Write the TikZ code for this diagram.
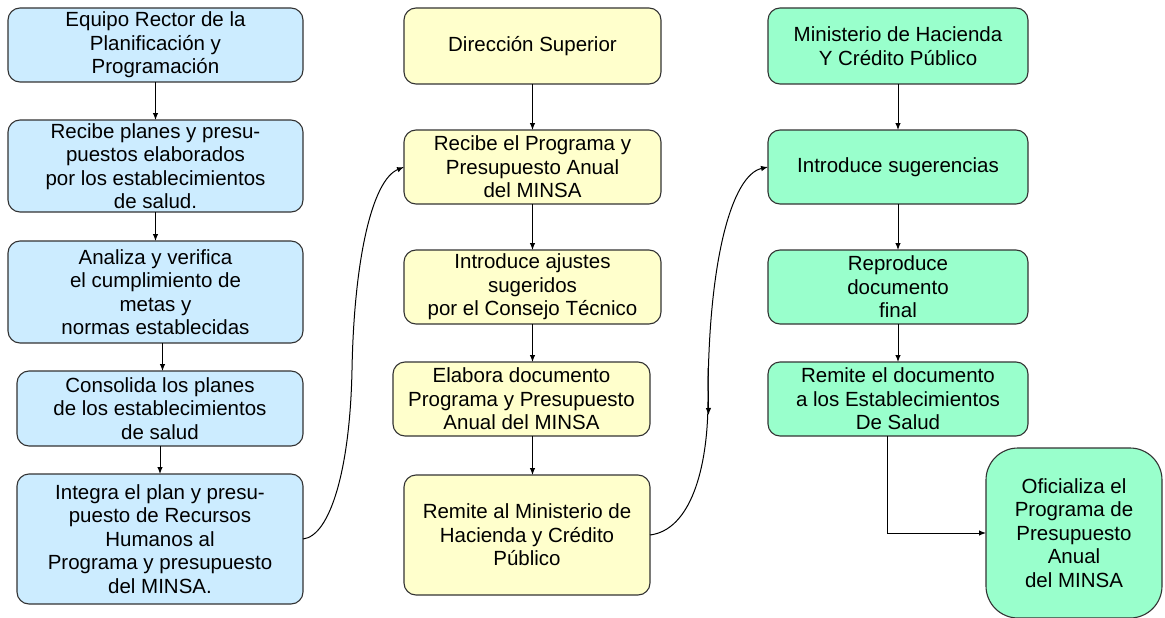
\documentclass[tikz,border=0pt]{standalone}
\usepackage{fontspec}
\setmainfont{Liberation Sans}
\usetikzlibrary{arrows.meta}
\definecolor{cblue}{HTML}{CCECFF}
\definecolor{cyel}{HTML}{FFFFCC}
\definecolor{cgrn}{HTML}{99FFCC}
\definecolor{cline}{HTML}{333333}
\tikzset{
  box/.style={draw=cline, line width=1.1pt, rounded corners=12pt, inner sep=0pt, outer sep=0pt,
    align=center, font=\fontsize{20.5}{23.5}\selectfont, text=black},
  bbox/.style={box, fill=cblue},
  ybox/.style={box, fill=cyel},
  gbox/.style={box, fill=cgrn},
  arr/.style={draw=black, line width=1pt, -{Latex[length=7pt,width=5.5pt]}},
}
\begin{document}
\begin{tikzpicture}[x=1pt,y=-1pt]
\useasboundingbox (0,0) rectangle (1165,618);
% left column
\node[bbox, minimum width=295pt, minimum height=74pt] (l1) at (155.5,45) {Equipo Rector de la\\Planificación y\\Programación};
\node[bbox, minimum width=295pt, minimum height=92pt] (l2) at (155.5,166) {Recibe planes y presu-\\puestos elaborados\\por los establecimientos\\de salud.};
\node[bbox, minimum width=295pt, minimum height=102pt] (l3) at (155.5,292) {Analiza y verifica\\el cumplimiento de\\metas y\\normas establecidas};
\node[bbox, minimum width=286pt, minimum height=75pt] (l4) at (160,408.5) {Consolida los planes\\de los establecimientos\\de salud};
\node[bbox, minimum width=286pt, minimum height=130pt] (l5) at (160,539) {Integra el plan y presu-\\puesto de Recursos\\Humanos al\\Programa y presupuesto\\del MINSA.};
% middle column
\node[ybox, minimum width=257pt, minimum height=76pt] (m1) at (532.5,46) {Dirección Superior};
\node[ybox, minimum width=257pt, minimum height=74pt] (m2) at (532.5,167) {Recibe el Programa y\\Presupuesto Anual\\del MINSA};
\node[ybox, minimum width=257pt, minimum height=74pt] (m3) at (532.5,287) {Introduce ajustes\\sugeridos\\por el Consejo Técnico};
\node[ybox, minimum width=257pt, minimum height=74pt] (m4) at (521.5,399) {Elabora documento\\Programa y Presupuesto\\Anual del MINSA};
\node[ybox, minimum width=246pt, minimum height=120pt] (m5) at (527,535) {Remite al Ministerio de\\Hacienda y Crédito\\Público};
% right column
\node[gbox, minimum width=260pt, minimum height=76pt] (r1) at (898,46) {Ministerio de Hacienda\\Y Crédito Público};
\node[gbox, minimum width=260pt, minimum height=74pt] (r2) at (898,167) {Introduce sugerencias};
\node[gbox, minimum width=260pt, minimum height=74pt] (r3) at (898,287) {Reproduce\\documento\\final};
\node[gbox, minimum width=260pt, minimum height=74pt] (r4) at (898,399) {Remite el documento\\a los Establecimientos\\De Salud};
\node[gbox, rounded corners=32pt, minimum width=176pt, minimum height=170pt] (r5) at (1074,533) {Oficializa el\\Programa de\\Presupuesto\\Anual\\del MINSA};
% vertical connectors
\draw[arr] (l1.south) -- (l1.south |- l2.north);
\draw[arr] (l2.south) -- (l2.south |- l3.north);
\draw[arr] ([xshift=7pt]l3.south) -- ([xshift=7pt]l3.south |- l4.north);
\draw[arr] (l4.south) -- (l4.south |- l5.north);
\draw[arr] (m1.south) -- (m1.south |- m2.north);
\draw[arr] (m2.south) -- (m2.south |- m3.north);
\draw[arr] (m3.south) -- (m3.south |- m4.north);
\draw[arr] ([xshift=11pt]m4.south) -- ([xshift=11pt]m4.south |- m5.north);
\draw[arr] (r1.south) -- (r1.south |- r2.north);
\draw[arr] (r2.south) -- (r2.south |- r3.north);
\draw[arr] (r3.south) -- (r3.south |- r4.north);
\draw[arr] ([xshift=-11pt]r4.south) |- (r5.west);
% curved connectors
\draw[arr] (l5.east) .. controls (330,536) and (350,470) .. (352,370)
  .. controls (354,260) and (372,180) .. (m2.west);
\draw[arr] (m5.east) .. controls (690,530) and (708,470) .. (708,400)
  .. controls (708,260) and (732,175) .. (r2.west);
\coordinate (k1) at (708,368);
\coordinate (k2) at (708.5,415);
\draw[arr] (k1) -- (k2);
\end{tikzpicture}
\end{document}
